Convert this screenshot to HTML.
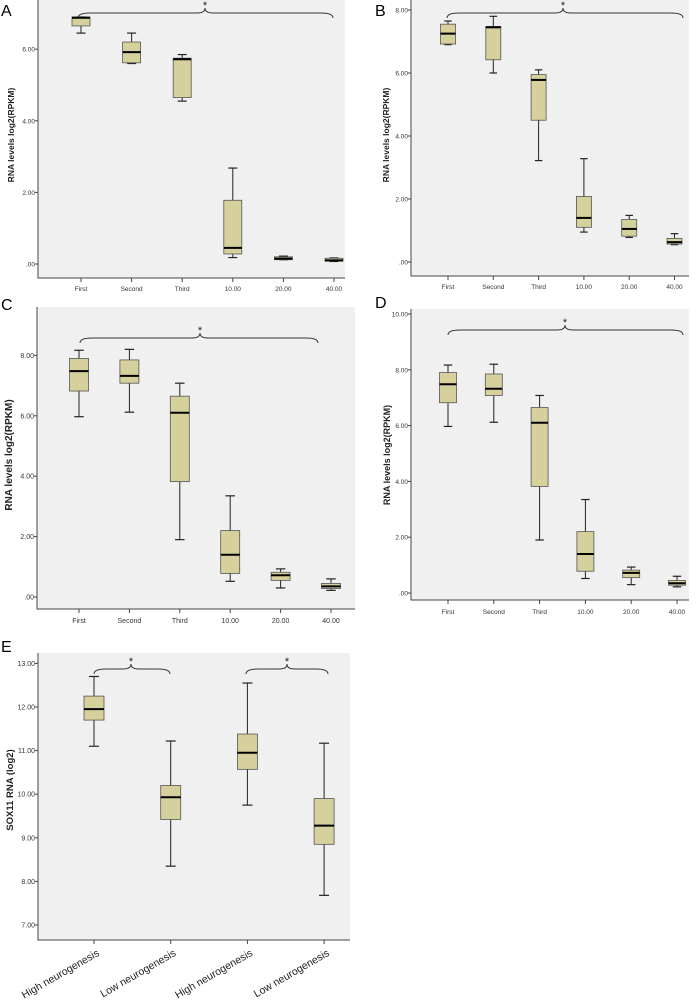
<!DOCTYPE html>
<html><head><meta charset="utf-8"><style>
body{margin:0;background:#fff;}
svg{display:block;font-family:"Liberation Sans",sans-serif;}
</style></head><body>
<svg id="fig" width="698" height="1001" viewBox="0 0 698 1001" xmlns="http://www.w3.org/2000/svg"></svg>
<script>
// Panel A data
const catsAD = ["First","Second","Third","10.00","20.00","40.00"];
const aLow=[6.45,5.6,4.55,0.18,0.12,0.07], aQ1=[6.65,5.62,4.65,0.28,0.12,0.08], aMed=[6.88,5.92,5.72,0.45,0.15,0.10], aQ3=[6.9,6.2,5.75,1.78,0.2,0.16], aHigh=[6.9,6.45,5.85,2.68,0.22,0.17];
const aTicks=[0,2,4,6];
// Panel B data
const bLow=[6.9,6.0,3.22,0.95,0.78,0.55], bQ1=[6.92,6.42,4.5,1.1,0.82,0.57], bMed=[7.25,7.45,5.78,1.4,1.05,0.63], bQ3=[7.55,7.48,5.95,2.08,1.35,0.75], bHigh=[7.65,7.8,6.1,3.28,1.48,0.9];
const bTicks=[0,2,4,6,8];
// Panel C data
const cLow=[5.97,6.12,1.9,0.52,0.3,0.22], cQ1=[6.82,7.08,3.82,0.78,0.55,0.28], cMed=[7.48,7.32,6.1,1.4,0.72,0.35], cQ3=[7.9,7.85,6.65,2.2,0.82,0.45], cHigh=[8.17,8.2,7.08,3.35,0.93,0.6];
const cTicks=[0,2,4,6,8];
// Panel D data
const dLow=[5.97,6.12,1.9,0.52,0.3,0.22], dQ1=[6.82,7.08,3.82,0.78,0.55,0.28], dMed=[7.48,7.32,6.1,1.4,0.72,0.35], dQ3=[7.9,7.85,6.65,2.2,0.82,0.45], dHigh=[8.17,8.2,7.08,3.35,0.93,0.6];
const dTicks=[0,2,4,6,8,10];
// Panel E data
const catsE=["High neurogenesis","Low neurogenesis","High neurogenesis","Low neurogenesis"];
const eLow=[11.1,8.35,9.75,7.68], eQ1=[11.7,9.42,10.57,8.85], eMed=[11.95,9.93,10.95,9.28], eQ3=[12.25,10.2,11.38,9.9], eHigh=[12.7,11.22,12.55,11.17];
const eTicks=[7,8,9,10,11,12,13];

const NS="http://www.w3.org/2000/svg";
const svg=document.getElementById('fig');
function mk(t,a,p){const e=document.createElementNS(NS,t);for(const k in a)e.setAttribute(k,a[k]);(p||svg).appendChild(e);return e;}
function fmt(v){return v===0?".00":v.toFixed(2);}

function panel(cfg){
  const g=mk('g',{});
  
  
  const bg=mk('rect',{x:cfg.px,y:cfg.py,width:cfg.pw,height:cfg.ph,fill:'#f0f0f0'},g);
  
  
  const yS=v=>cfg.y0-(v-cfg.vmin)*cfg.k;
  const xS=i=>cfg.x0+i*cfg.step;
  const ax=mk('path',{d:`M${cfg.px} ${cfg.py}V${cfg.py+cfg.ph}H${cfg.px+cfg.pw}`,stroke:'#444',fill:'none','stroke-width':1},g);
  
  
  cfg.ticks.forEach(t=>{
    mk('line',{x1:cfg.px-3,x2:cfg.px,y1:yS(t),y2:yS(t),stroke:'#444'},g);
    const tx=mk('text',{x:cfg.px-3,y:yS(t)+2.5,'font-size':cfg.tfs,'text-anchor':'end',fill:'#333'},g);
    tx.textContent=fmt(t);
    
    
  });
  const yt=mk('text',{x:0,y:0,'font-size':cfg.yfs,'font-weight':'bold','text-anchor':'middle',fill:'#222',transform:`translate(${cfg.ytx},${cfg.yty}) rotate(-90)`},g);
  yt.textContent=cfg.ytitle;
  
  
  const lb=mk('text',{x:cfg.lx,y:cfg.ly,'font-size':16,fill:'#000'},g);
  lb.textContent=cfg.id;
  
  
  const hw=cfg.bw/2;
  cfg.cats.forEach((c,i)=>{
    const x=xS(i);
    const bg2=mk('g',{},g);
    
    
    mk('line',{x1:x,x2:x,y1:yS(cfg.low[i]),y2:yS(cfg.high[i]),stroke:'#222','stroke-width':1},bg2);
    mk('line',{x1:x-hw/2,x2:x+hw/2,y1:yS(cfg.low[i]),y2:yS(cfg.low[i]),stroke:'#222','stroke-width':1.2},bg2);
    mk('line',{x1:x-hw/2,x2:x+hw/2,y1:yS(cfg.high[i]),y2:yS(cfg.high[i]),stroke:'#222','stroke-width':1.2},bg2);
    mk('rect',{x:x-hw,y:yS(cfg.q3[i]),width:cfg.bw,height:Math.max(1,yS(cfg.q1[i])-yS(cfg.q3[i])),fill:'#d6d09c',stroke:'#555','stroke-width':0.8},bg2);
    mk('line',{x1:x-hw,x2:x+hw,y1:yS(cfg.med[i]),y2:yS(cfg.med[i]),stroke:'#000','stroke-width':2},bg2);
    mk('line',{x1:x,x2:x,y1:cfg.py+cfg.ph,y2:cfg.py+cfg.ph+4,stroke:'#444'},g);
    if(cfg.rot){
      const t=mk('text',{x:0,y:0,'font-size':10.5,'text-anchor':'end',fill:'#222',transform:`translate(${x+6},${cfg.ly2}) rotate(-30)`},g);
      t.textContent=c;
      
      
    }else{
      const t=mk('text',{x:x,y:cfg.ly2,'font-size':cfg.tfs,'text-anchor':'middle',fill:'#333'},g);
      t.textContent=c;
      
      
    }
  });
  cfg.braces.forEach(b=>{
    const [x1,x2,y,pk]=b;
    const p=mk('path',{d:`M${x1} ${y+5}Q${x1} ${y} ${x1+12} ${y}L${pk-8} ${y}Q${pk} ${y} ${pk} ${y-5}Q${pk} ${y} ${pk+8} ${y}L${x2-12} ${y}Q${x2} ${y} ${x2} ${y+5}`,fill:'none',stroke:'#333','stroke-width':1},g);
    
    
    const s=mk('text',{x:pk,y:y-4,'font-size':11,'text-anchor':'middle',fill:'#222'},g);
    s.textContent='*';
    
    
  });
}
panel({id:'A',px:38,py:0,pw:307,ph:278,x0:81,step:50.6,bw:18,y0:264,vmin:0,k:35.8,ticks:aTicks,cats:catsAD,low:aLow,q1:aQ1,med:aMed,q3:aQ3,high:aHigh,tfs:6.5,yfs:8.5,ytitle:'RNA levels log2(RPKM)',ytx:14,yty:135,lx:1,ly:16,ly2:291,braces:[[78,333,13,205]]});
panel({id:'B',px:411,py:0,pw:278,ph:276,x0:448,step:45.3,bw:15,y0:262,vmin:0,k:31.5,ticks:bTicks,cats:catsAD,low:bLow,q1:bQ1,med:bMed,q3:bQ3,high:bHigh,tfs:6.5,yfs:8.5,ytitle:'RNA levels log2(RPKM)',ytx:389,yty:135,lx:375,ly:16,ly2:289,braces:[[447,683,13,563]]});
panel({id:'C',px:37,py:307,pw:318,ph:302,x0:79,step:50.4,bw:19,y0:597,vmin:0,k:30.2,ticks:cTicks,cats:catsAD,low:cLow,q1:cQ1,med:cMed,q3:cQ3,high:cHigh,tfs:7,yfs:10,ytitle:'RNA levels log2(RPKM)',ytx:12,yty:455,lx:1,ly:310,ly2:623,braces:[[80,318,338,200]]});
panel({id:'D',px:411,py:309,pw:278,ph:291,x0:448,step:45.8,bw:17,y0:593,vmin:0,k:27.9,ticks:dTicks,cats:catsAD,low:dLow,q1:dQ1,med:dMed,q3:dQ3,high:dHigh,tfs:6.5,yfs:9,ytitle:'RNA levels log2(RPKM)',ytx:390,yty:455,lx:375,ly:308,ly2:614,braces:[[448,683,330,565]]});
panel({id:'E',px:38,py:653,pw:312,ph:287,x0:94,step:76.7,bw:20,y0:925,vmin:7,k:43.6,ticks:eTicks,cats:catsE,low:eLow,q1:eQ1,med:eMed,q3:eQ3,high:eHigh,tfs:7,yfs:9.5,ytitle:'SOX11 RNA (log2)',ytx:13,yty:790,lx:1,ly:652,ly2:955,rot:true,braces:[[94,170,669,131],[246,328,669,287]]});
</script>
</body></html>
